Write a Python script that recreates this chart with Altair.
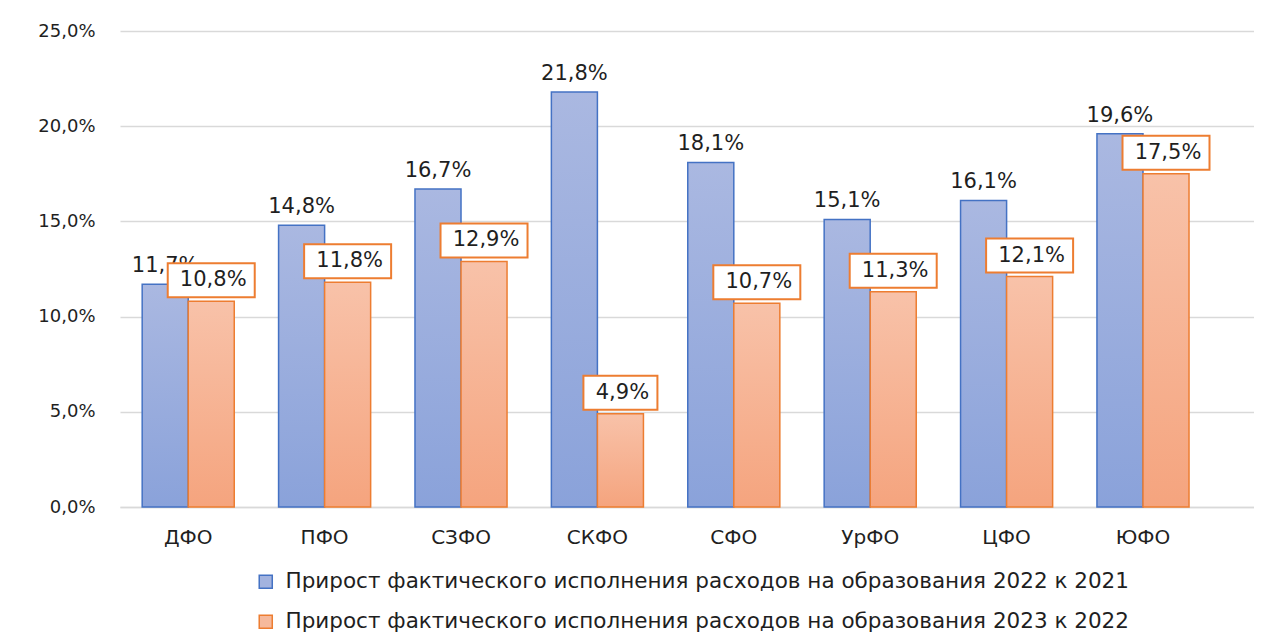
import altair as alt
import pandas as pd

categories = ["ДФО", "ПФО", "СЗФО", "СКФО", "СФО", "УрФО", "ЦФО", "ЮФО"]
growth_2022 = [11.7, 14.8, 16.7, 21.8, 18.1, 15.1, 16.1, 19.6]
growth_2023 = [10.8, 11.8, 12.9, 4.9, 10.7, 11.3, 12.1, 17.5]
series_names = [
    "Прирост фактического исполнения расходов на образования 2022 к 2021",
    "Прирост фактического исполнения расходов на образования 2023 к 2022",
]
y_ticks = [0, 0.05, 0.10, 0.15, 0.20, 0.25]

rows = []
for s, vals in zip(series_names, [growth_2022, growth_2023]):
    for c, v in zip(categories, vals):
        lab = f"{v:.1f}%".replace(".", ",")
        rows.append({"cat": c, "series": s, "value": v / 100, "label": lab,
                     "boxw": 13 * len(lab) + 22})
df = pd.DataFrame(rows)

FONT = "DejaVu Sans"
TXT = "#1f1f1f"
BLUE = "#4472c4"
ORANGE = "#ed7d31"

blue_grad = alt.Gradient(gradient="linear", x1=0, y1=0, x2=0, y2=1,
                         stops=[alt.GradientStop(color="#aab8e1", offset=0),
                                alt.GradientStop(color="#8aa2da", offset=1)])
orange_grad = alt.Gradient(gradient="linear", x1=0, y1=0, x2=0, y2=1,
                           stops=[alt.GradientStop(color="#f8c2a9", offset=0),
                                  alt.GradientStop(color="#f5a47e", offset=1)])

x_enc = alt.X("cat:N", sort=categories, title=None,
              scale=alt.Scale(paddingInner=0.325, paddingOuter=0.3195, align=0.2545),
              axis=alt.Axis(labelAngle=0, ticks=False, domain=True, domainColor="#d9d9d9",
                            domainWidth=1.5, labelFontSize=20, labelFont=FONT,
                            labelColor=TXT, labelPadding=20))
xo_enc = alt.XOffset("series:N", sort=series_names,
                     scale=alt.Scale(domain=series_names, paddingInner=0, paddingOuter=0))
y_enc = alt.Y("value:Q", title=None,
              scale=alt.Scale(domain=[0, 0.25], nice=False),
              axis=alt.Axis(values=y_ticks, ticks=False, domain=False,
                            gridColor="#d9d9d9", gridWidth=1.5,
                            labelExpr="replace(format(datum.value, '.1%'), '.', ',')",
                            labelFontSize=18, labelFont=FONT, labelColor=TXT,
                            labelPadding=25))

base = alt.Chart(df)
s1 = alt.datum.series == series_names[0]
s2 = alt.datum.series == series_names[1]

bars1 = base.transform_filter(s1).mark_bar(fill=blue_grad, stroke=BLUE, strokeWidth=1.5).encode(
    x=x_enc, xOffset=xo_enc, y=y_enc)
bars2 = base.transform_filter(s2).mark_bar(fill=orange_grad, stroke=ORANGE, strokeWidth=1.5).encode(
    x=x_enc, xOffset=xo_enc, y=y_enc)

legend_def = alt.Legend(title=None, orient="none", legendX=135, legendY=540,
                        direction="vertical", symbolType="square", symbolSize=170,
                        symbolStrokeWidth=1.5, symbolOpacity=1,
                        labelFontSize=21.5, labelFont=FONT, labelColor=TXT,
                        labelLimit=0, rowPadding=17, labelOffset=9)
legend_layer = base.mark_square(opacity=0).encode(
    x=x_enc, xOffset=xo_enc, y=y_enc,
    fill=alt.Fill("series:N", sort=series_names,
                  scale=alt.Scale(domain=series_names, range=["#a3b3df", "#f6b99c"]),
                  legend=legend_def),
    stroke=alt.Stroke("series:N", sort=series_names,
                      scale=alt.Scale(domain=series_names, range=[BLUE, ORANGE]),
                      legend=legend_def),
)

text1 = base.transform_filter(s1).mark_text(baseline="bottom", dy=-8, fontSize=21,
                                           font=FONT, color=TXT).encode(
    x=x_enc, xOffset=xo_enc, y=y_enc, text="label:N")

boxes = base.transform_filter(s2).mark_bar(fill="white", stroke=ORANGE, strokeWidth=2,
                                           yOffset=-4, y2Offset=-38).encode(
    x=x_enc, xOffset=xo_enc, y=y_enc, y2=alt.Y2("value:Q"),
    size=alt.Size("boxw:Q", scale=None, legend=None))

text2 = base.transform_filter(s2).mark_text(baseline="middle", dy=-21, dx=2, fontSize=21,
                                           font=FONT, color=TXT).encode(
    x=x_enc, xOffset=xo_enc, y=y_enc, text="label:N")

chart = alt.layer(bars1, bars2, legend_layer, text1, boxes, text2).properties(
    width=1134, height=476,
    autosize=alt.AutoSizeParams(type="none"),
    padding={"left": 112, "top": 23, "right": 0, "bottom": 132},
    background="white",
).configure_view(stroke=None)

chart.save("out.html", embed_options={"renderer": "svg", "actions": False})
